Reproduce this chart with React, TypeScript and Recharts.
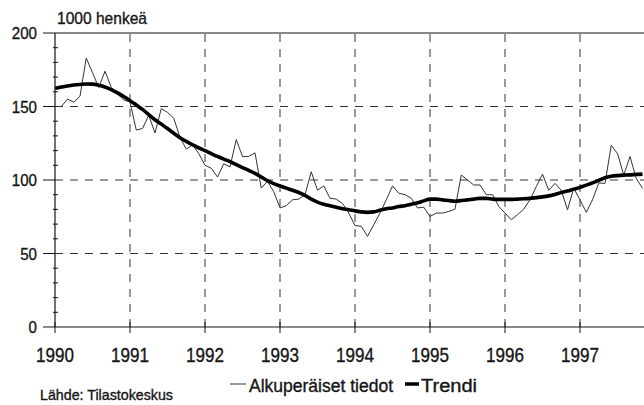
import React from 'react';
import { LineChart, Line, XAxis, YAxis, ReferenceLine } from 'recharts';

const FONT = '"Liberation Sans", Arial, sans-serif';
const INK = '#151515';

const START_YEAR = 1990;
const yearTicks = [0, 12, 24, 36, 48, 60, 72, 84];
const yMinorTicks = [0, 10, 20, 30, 40, 50, 60, 70, 80, 90, 100, 110, 120, 130, 140, 150, 160, 170, 180, 190, 200];
const gridY = [50, 100, 150];
const gridX = [12, 24, 36, 48, 60, 72, 84];

// kuukausittaiset arvot, tammikuu 1990 ->
const original = [
  150, 150, 155, 153, 157, 183, 173, 163, 174, 163, 158.5, 154.5,
  153, 134, 135, 144, 132, 148.5, 146, 142, 129, 121, 124, 118,
  110, 108, 102, 111, 109, 127.5, 116, 116, 118.5, 94.5, 99, 92,
  81, 82.5, 86.5, 87, 90, 105.6, 93, 96, 87.6, 87, 84, 77.5,
  69, 68.5, 61.7, 69.6, 77.5, 86.5, 96, 91, 90, 87.6, 81, 81.5,
  75.2, 77.5, 77.5, 78.6, 80.2, 103.4, 100, 96.6, 96.6, 90, 90, 82,
  77.5, 73, 76.4, 80.2, 86.5, 95.5, 104, 93, 97.7, 93, 79.7, 94.4,
  86.5, 78, 86.5, 98, 97.7, 123.6, 118, 103.4, 116, 101, 94.4,
];

const trend = [
  162.4, 163.2, 164, 164.6, 165, 165.3, 165.2, 164.5, 163.3, 161.5, 159.3, 156.8,
  154, 151, 148, 144.5, 141, 138, 135, 131.8, 128.8, 126.3, 124, 121.8,
  120, 118, 116, 114.2, 112.5, 110.5, 108.5, 106.5, 104.5, 102, 99.5, 97.5,
  96, 94.5, 93, 91.5, 89.5, 87, 85, 83.5, 82.5, 81.5, 80.5, 79.8,
  79, 78.3, 78, 78.3, 79.5, 80.5, 81, 82, 82.5, 83.5, 84.5, 85.8,
  87, 87, 86.5, 86, 85.5, 86, 86.5, 87, 87.5, 87.5, 87, 86.8,
  86.8, 86.8, 87, 87.2, 87.5, 88, 88.5, 89.2, 90.2, 91.5, 92.5, 93.8,
  95, 96.5, 98, 99.7, 101.5, 102.5, 103, 103.3, 103.5, 103.8, 104,
];

const data = original.map((v, i) => ({ m: i, original: v, trend: trend[i] }));

// kapea teksti: fontti puristetaan leveyteen textLength-arvolla
const Narrow = ({ x, y, size, width, anchor = 'start', children }: any) => (
  <text
    x={x}
    y={y}
    fontSize={size}
    fontFamily={FONT}
    fill={INK}
    stroke={INK}
    strokeWidth={0.35}
    textAnchor={anchor}
    textLength={width}
    lengthAdjust="spacingAndGlyphs"
  >
    {children}
  </text>
);

const XTick = (props: any) => {
  const { x, y, payload } = props;
  return (
    <g>
      <line x1={x} x2={x} y1={y - 5} y2={y + 6} stroke={INK} strokeWidth={1} />
      <Narrow x={x} y={y + 35} size={21} width={38} anchor="middle">
        {String(START_YEAR + payload.value / 12)}
      </Narrow>
    </g>
  );
};

const YTick = (props: any) => {
  const { x, y, payload } = props;
  const major = payload.value % 50 === 0;
  const label = String(payload.value);
  return (
    <g>
      {major ? (
        <line x1={x - 12} x2={x} y1={y} y2={y} stroke={INK} strokeWidth={1} />
      ) : (
        <line x1={x - 2} x2={x + 3} y1={y} y2={y} stroke={INK} strokeWidth={1} />
      )}
      {major && (
        <Narrow x={x - 18} y={y + 6} size={17} width={label.length * 8.4} anchor="end">
          {label}
        </Narrow>
      )}
    </g>
  );
};

export default function App() {
  return (
    <div style={{ position: 'absolute', left: 0, top: 0, width: 644, height: 405, background: '#fff' }}>
      <LineChart width={644} height={405} data={data} margin={{ top: 33, right: 0, bottom: 0, left: 0 }}>
        {gridY.map((v) => (
          <ReferenceLine key={`gy${v}`} y={v} stroke="#333" strokeDasharray="8 7" strokeWidth={1} />
        ))}
        {gridX.map((v) => (
          <ReferenceLine key={`gx${v}`} x={v} stroke="#333" strokeDasharray="8 7" strokeWidth={1} />
        ))}
        <ReferenceLine y={200} stroke={INK} strokeWidth={1.2} />
        <XAxis
          dataKey="m"
          type="number"
          domain={[0, 94.24]}
          allowDataOverflow
          ticks={yearTicks}
          interval={0}
          tickSize={0}
          tickMargin={0}
          tick={<XTick />}
          axisLine={{ stroke: INK, strokeWidth: 1.2 }}
          tickLine={false}
          height={78}
        />
        <YAxis
          type="number"
          domain={[0, 200]}
          ticks={yMinorTicks}
          interval={0}
          tickSize={0}
          tickMargin={0}
          tick={<YTick />}
          axisLine={{ stroke: INK, strokeWidth: 1.2 }}
          tickLine={false}
          width={55}
        />
        <Line
          type="linear"
          dataKey="original"
          stroke="#333"
          strokeWidth={1}
          dot={false}
          isAnimationActive={false}
        />
        <Line
          type="monotone"
          dataKey="trend"
          stroke="#000"
          strokeWidth={3.6}
          dot={false}
          isAnimationActive={false}
        />
      </LineChart>
      <svg
        width={644}
        height={405}
        style={{ position: 'absolute', left: 0, top: 0, pointerEvents: 'none' }}
      >
        <Narrow x={57} y={24} size={17} width={90}>1000 henkeä</Narrow>
        <Narrow x={40} y={400} size={15} width={133}>Lähde: Tilastokeskus</Narrow>
        <line x1={230} x2={246} y1={384} y2={384} stroke="#333" strokeWidth={1} />
        <Narrow x={249} y={392} size={18} width={144}>Alkuperäiset tiedot</Narrow>
        <line x1={405} x2={419} y1={384} y2={384} stroke="#000" strokeWidth={3.5} />
        <Narrow x={421} y={392} size={18} width={56}>Trendi</Narrow>
      </svg>
    </div>
  );
}
